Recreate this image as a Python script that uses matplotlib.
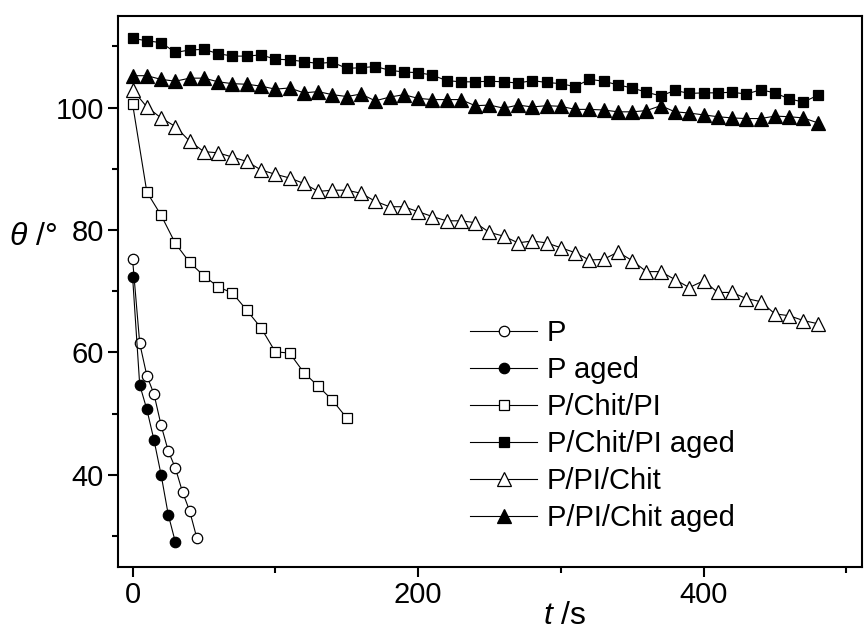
import matplotlib
matplotlib.use('Agg')
import matplotlib.pyplot as plt
from matplotlib.ticker import MultipleLocator

plt.rcParams['font.family'] = ['Liberation Sans', 'DejaVu Sans']
plt.rcParams['mathtext.fontset'] = 'custom'
plt.rcParams['mathtext.rm'] = 'Liberation Sans'
plt.rcParams['mathtext.it'] = 'Liberation Sans:italic'

# time points (s)
t_p = [0, 5, 10, 15, 20, 25, 30, 35, 40, 45]
t_p_aged = [0, 5, 10, 15, 20, 25, 30]
t_chit_pi = [0, 10, 20, 30, 40, 50, 60, 70, 80, 90, 100, 110, 120, 130, 140, 150]
t_long = [0, 10, 20, 30, 40, 50, 60, 70, 80, 90, 100, 110, 120, 130, 140, 150,
          160, 170, 180, 190, 200, 210, 220, 230, 240, 250, 260, 270, 280, 290,
          300, 310, 320, 330, 340, 350, 360, 370, 380, 390, 400, 410, 420, 430,
          440, 450, 460, 470, 480]

# contact angle (deg)
theta_p = [75.2, 61.5, 56.2, 53.2, 48.1, 43.9, 41.1, 37.2, 34.1, 29.7]
theta_p_aged = [72.4, 54.7, 50.7, 45.7, 40.0, 33.5, 29.0]
theta_chit_pi = [100.6, 86.2, 82.4, 77.8, 74.7, 72.5, 70.7, 69.7, 66.9, 64.0,
                 60.1, 59.9, 56.7, 54.5, 52.2, 49.3]
theta_chit_pi_aged = [111.3, 110.9, 110.6, 109.0, 109.4, 109.5, 108.8, 108.4, 108.4,
                      108.6, 107.9, 107.8, 107.5, 107.2, 107.4, 106.4, 106.5, 106.7,
                      106.1, 105.8, 105.7, 105.3, 104.4, 104.2, 104.2, 104.3, 104.2,
                      104.0, 104.4, 104.1, 103.9, 103.4, 104.6, 104.3, 103.7, 103.2,
                      102.5, 101.9, 102.8, 102.3, 102.4, 102.4, 102.5, 102.2, 102.9,
                      102.4, 101.4, 100.9, 102.0]
theta_pi_chit = [102.9, 100.1, 98.3, 96.9, 94.5, 92.8, 92.6, 91.9, 91.2, 89.8,
                 89.1, 88.5, 87.6, 86.3, 86.5, 86.5, 86.0, 84.7, 83.8, 83.8,
                 83.0, 82.2, 81.5, 81.5, 81.2, 79.6, 79.0, 77.9, 78.2, 77.9,
                 77.1, 76.3, 75.1, 75.2, 76.4, 75.0, 73.2, 73.2, 71.9, 70.6,
                 71.7, 69.8, 69.8, 68.8, 68.3, 66.3, 66.0, 65.2, 64.7]
theta_pi_chit_aged = [105.2, 105.2, 104.6, 104.3, 104.8, 104.8, 104.2, 103.9, 103.8,
                      103.5, 103.0, 103.2, 102.4, 102.6, 102.1, 101.8, 102.2, 101.1,
                      101.7, 102.1, 101.5, 101.3, 101.3, 101.3, 100.3, 100.4, 99.9,
                      100.4, 100.1, 100.3, 100.2, 99.7, 99.7, 99.6, 99.3, 99.3, 99.5,
                      100.3, 99.3, 99.1, 98.8, 98.5, 98.3, 98.2, 98.2, 98.6, 98.5,
                      98.3, 97.5]

series = [
    ('P', t_p, theta_p, 'o', 'white', 7.5),
    ('P aged', t_p_aged, theta_p_aged, 'o', 'black', 7.5),
    ('P/Chit/PI', t_chit_pi, theta_chit_pi, 's', 'white', 7.3),
    ('P/Chit/PI aged', t_long, theta_chit_pi_aged, 's', 'black', 7.5),
    ('P/PI/Chit', t_long, theta_pi_chit, '^', 'white', 10),
    ('P/PI/Chit aged', t_long, theta_pi_chit_aged, '^', 'black', 10),
]

fig = plt.figure(figsize=(8.66, 6.33), dpi=100)
ax = fig.add_axes([0.1366, 0.1047, 0.8588, 0.8705])

for label, t, th, mk, fc, ms in series:
    ax.plot(t, th, '-', color='black', linewidth=0.8, marker=mk, markersize=ms,
            markerfacecolor=fc, markeredgecolor='black', markeredgewidth=0.9,
            label=label)

ax.set_xlim(-10, 511)
ax.set_ylim(25, 115)
ax.xaxis.set_major_locator(MultipleLocator(200))
ax.xaxis.set_minor_locator(MultipleLocator(100))
ax.yaxis.set_minor_locator(MultipleLocator(10))
ax.set_yticks([40, 60, 80, 100])
ax.tick_params(which='both', direction='out', top=False, right=False,
               labelsize=21, width=1.5)
ax.tick_params(which='major', length=7)
ax.tick_params(which='minor', length=4)
for s in ax.spines.values():
    s.set_linewidth(1.5)

fig.text(0.01, 1 - 237 / 633, r'$\theta$ /°', fontsize=23, va='center', ha='left')
fig.text(565 / 866, 1 - 616 / 633, r'$t$ /s', fontsize=23, va='center', ha='center')

ax.legend(loc='upper left', bbox_to_anchor=(470 / 866, 1 - 319 / 633),
          bbox_transform=fig.transFigure, frameon=False, fontsize=21,
          handlelength=2.3, handletextpad=0.34, labelspacing=0.31,
          borderpad=0, borderaxespad=0)

fig.savefig('out.png', dpi=100)
